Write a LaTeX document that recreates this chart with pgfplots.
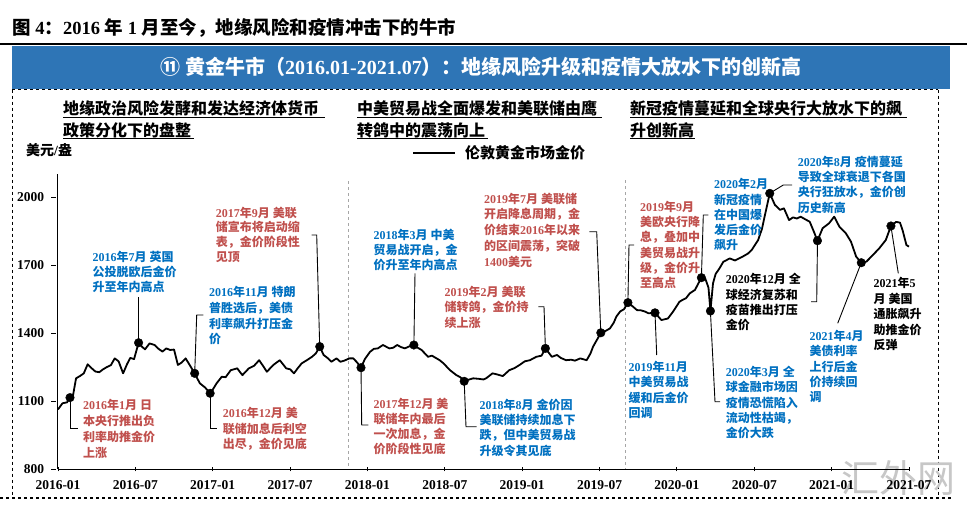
\documentclass[border=0pt]{standalone}
\usepackage{fontspec}
\setmainfont{Liberation Serif}
\newfontfamily\cjk{Noto Sans CJK SC}
\usepackage{pgfplots}
\pgfplotsset{compat=1.18}
\definecolor{annred}{RGB}{192,80,77}
\definecolor{annblue}{RGB}{0,112,192}
\definecolor{banner}{RGB}{46,117,182}
% automatic switch between Latin and CJK fonts
\chardef\CJKcls=11
\newcount\cc
\def\setcls#1#2{\cc=#1 \loop \XeTeXcharclass\cc=\CJKcls \advance\cc by 1 \ifnum\cc<#2 \repeat}
\setcls{"4E00}{"A000}
\setcls{"3000}{"3040}
\setcls{"FF00}{"FFF0}
\setcls{"2460}{"2500}
\XeTeXinterchartoks 0 \CJKcls = {\cjk}
\XeTeXinterchartoks 4095 \CJKcls = {\cjk}
\XeTeXinterchartoks \CJKcls 0 = {\rmfamily}
\XeTeXinterchartoks \CJKcls 4095 = {\rmfamily}
\newcommand\ann[5]{%
  \foreach \t [count=\i from 0] in {#5}
    \node[anchor=west, inner sep=0pt, text=#4, font=\fontsize{12}{14}\selectfont\bfseries] at (#1,{#2+\i*#3}) {\t};}
\begin{document}
\XeTeXinterchartokenstate=1
\begin{tikzpicture}
\path[use as bounding box] (0,0) rectangle (967pt,-507pt);
\begin{scope}[x=1pt,y=-1pt]
  \node[anchor=west, inner sep=0pt, font=\fontsize{18.5}{20}\selectfont\bfseries] at (12,28) {图 4：2016 年 1 月至今，地缘风险和疫情冲击下的牛市};
  \draw[line width=2.5pt] (0,43.8) -- (967,43.8);
  \fill[banner] (12,45.5) rectangle (950,88.5);
  \node[text=white, inner sep=0pt, font=\fontsize{20}{22}\selectfont\bfseries] at (481,67) {⑪ 黄金牛市（2016.01-2021.07）：地缘风险升级和疫情大放水下的创新高};
  \draw[dashed, line width=1pt] (12,89.5) -- (12,498);
  \draw[dashed, line width=1pt] (12,89.5) -- (938,89.5);
  \draw[dashed, line width=1pt] (938,89.5) -- (938,498);
  \draw[dashed, line width=2.5pt] (0,498) -- (952,498);
  \draw[gray!70, dashed, line width=0.9pt] (348.3,181) -- (348.3,469);
  \draw[gray!70, dashed, line width=0.9pt] (625,180) -- (625,469);
  % section titles
  \begin{scope}[every node/.style={anchor=west, inner sep=0pt, font=\fontsize{16}{18}\selectfont\bfseries}]
    \node at (63,108) {地缘政治风险发酵和发达经济体货币};
    \node at (63,130) {政策分化下的盘整};
    \node at (357,108) {中美贸易战全面爆发和美联储由鹰};
    \node at (357,130) {转鸽中的震荡向上};
    \node at (630,108) {新冠疫情蔓延和全球央行大放水下的飙};
    \node at (630,130) {升创新高};
  \end{scope}
  \draw[line width=0.9pt] (63,117) -- (325,117);
  \draw[line width=0.9pt] (63,138.5) -- (194,138.5);
  \draw[line width=0.9pt] (357,117) -- (602,117);
  \draw[line width=0.9pt] (357,138.5) -- (488,138.5);
  \draw[line width=0.9pt] (630,117) -- (907,117);
  \draw[line width=0.9pt] (630,138.5) -- (695,138.5);
  % legend
  \draw[line width=1.6pt] (413,153) -- (455,153);
  \node[anchor=west, inner sep=0pt, font=\fontsize{15}{17}\selectfont\bfseries] at (465,153) {伦敦黄金市场金价};
  \node[anchor=west, inner sep=0pt, font=\fontsize{14}{16}\selectfont\bfseries] at (26,150) {美元/盎};
  \node[anchor=center, inner sep=0pt, text=black!22, font=\fontsize{38}{40}\selectfont] at (898,478) {汇外网};
\end{scope}
\begin{axis}[
  at={(58pt,-469pt)}, anchor=south west, scale only axis,
  width=851pt, height=294.7pt,
  xmin=0, xmax=66, ymin=800, ymax=2100,
  axis lines=left, axis line style={line width=1pt, -},
  clip=false,
  xtick={0,6,12,18,24,30,36,42,48,54,60,66},
  xticklabels={2016-01,2016-07,2017-01,2017-07,2018-01,2018-07,2019-01,2019-07,2020-01,2020-07,2021-01,2021-07},
  ytick={800,1100,1400,1700,2000},
  major tick length=4.5pt,
  tick style={black, line width=0.9pt},
  ytick style={xshift=-4.5pt},
  tick label style={font=\fontsize{13.5}{14}\selectfont\bfseries},
  xticklabel style={yshift=-6pt},
  yticklabel style={xshift=-8pt},
  /pgf/number format/assume math mode=true,
  /pgf/number format/1000 sep={},
]
\addplot[black, line width=1.8pt, line join=round] coordinates {
(0.0,1063) (0.35,1090) (0.7,1094) (0.93,1115) (1.15,1120) (1.4,1200) (1.7,1210) (2.0,1222) (2.3,1262) (2.6,1245)
(2.9,1230) (3.2,1227) (3.5,1240) (3.8,1250) (4.1,1258) (4.4,1288) (4.7,1275) (5.05,1222) (5.35,1262) (5.6,1290)
(5.9,1285) (6.25,1357) (6.5,1340) (6.75,1328) (7.1,1354) (7.5,1347) (7.8,1330) (8.1,1318) (8.4,1332) (8.7,1325)
(9.0,1327) (9.3,1259) (9.6,1270) (9.9,1288) (10.2,1260) (10.6,1222) (11.0,1178) (11.4,1160) (11.8,1134) (12.0,1150)
(12.3,1178) (12.7,1207) (13.0,1205) (13.4,1236) (13.9,1244) (14.3,1214) (14.8,1244) (15.2,1255) (15.6,1280) (15.9,1255)
(16.2,1229) (16.7,1259) (17.2,1280) (17.7,1244) (18.0,1240) (18.3,1222) (18.6,1245) (18.9,1266) (19.3,1280) (19.7,1295)
(20.0,1310) (20.3,1340) (20.6,1303) (20.9,1290) (21.2,1273) (21.6,1288) (21.9,1273) (22.2,1278) (22.6,1288) (22.9,1288)
(23.2,1270) (23.5,1247) (23.8,1285) (24.2,1317) (24.5,1330) (24.8,1332) (25.2,1347) (25.7,1332) (26.0,1335) (26.3,1347)
(26.6,1338) (26.9,1332) (27.2,1340) (27.6,1347) (27.9,1335) (28.2,1325) (28.7,1295) (29.0,1300) (29.3,1290) (29.6,1280)
(29.9,1266) (30.4,1236) (30.9,1214) (31.2,1205) (31.5,1187) (31.9,1195) (32.2,1200) (32.6,1198) (33.0,1195) (33.2,1200)
(33.7,1222) (34.0,1218) (34.5,1210) (35.0,1236) (35.4,1245) (35.8,1259) (36.2,1275) (36.6,1280) (37.1,1295) (37.5,1300)
(37.8,1332) (38.1,1310) (38.3,1295) (38.7,1303) (39.0,1290) (39.4,1280) (39.8,1282) (40.1,1278) (40.5,1288) (41.0,1280)
(41.3,1310) (41.5,1340) (41.8,1370) (42.1,1401) (42.5,1410) (42.8,1420) (43.1,1445) (43.3,1472) (43.6,1495) (43.9,1505)
(44.2,1534) (44.6,1516) (44.9,1501) (45.2,1500) (45.5,1495) (45.8,1487) (46.3,1489) (46.8,1457) (47.3,1464) (47.7,1494)
(48.2,1538) (48.5,1548) (48.7,1553) (49.0,1575) (49.4,1590) (49.9,1644) (50.2,1640) (50.45,1600) (50.6,1497) (50.8,1619)
(51.0,1660) (51.3,1685) (51.6,1714) (52.1,1729) (52.5,1720) (53.1,1737) (53.5,1750) (53.8,1766) (54.3,1810) (54.6,1860)
(54.8,1913) (55.2,2016) (55.6,1965) (56.0,1943) (56.3,1950) (56.7,1898) (57.0,1910) (57.3,1905) (57.6,1913) (58.0,1900)
(58.3,1891) (58.6,1850) (58.9,1807) (59.3,1862) (59.8,1884) (60.2,1913) (60.6,1869) (61.1,1840) (61.5,1803) (61.9,1737)
(62.3,1710) (62.7,1715) (63.2,1744) (63.7,1774) (64.2,1810) (64.6,1872) (65.0,1890) (65.3,1887) (65.5,1854) (65.8,1788)
(66.0,1781)
};
\addplot[only marks, mark=*, mark size=4.3pt, black] coordinates {
(0.93,1115) (6.25,1357) (10.6,1222) (11.8,1134) (20.3,1340) (23.5,1247) (27.6,1347) (31.5,1187) (37.8,1332)
(42.1,1401) (44.2,1534) (46.3,1489) (49.9,1644) (50.6,1497) (55.2,2016) (58.9,1807) (62.3,1710) (64.6,1872)
};
\end{axis}
\begin{scope}[x=1pt,y=-1pt]
  \begin{scope}[line width=0.9pt]
    \draw (70,397.6) -- (70,428) -- (78,428);
    \draw (138.6,342.7) -- (138.6,296.7);
    \draw (194.7,373.3) -- (196.7,315) -- (203.3,315);
    \draw (210.1,393.3) -- (210.1,428.3) -- (216.7,428.3);
    \draw (319.7,346.6) -- (316.7,235) -- (311.7,235);
    \draw (361,367.7) -- (361.7,425) -- (368.3,425);
    \draw (413.9,345) -- (415,273.3);
    \draw (464.2,381.3) -- (466,426.7) -- (476.7,426.7);
    \draw (545.4,348.4) -- (544,306.7) -- (538.3,306.7);
    \draw (600.8,332.8) -- (596.7,231.7) -- (589.3,231.7);
    \draw (627.9,302.6) -- (629,245) -- (634,245);
    \draw (655,312.8) -- (656.7,355);
    \draw (701.4,277.7) -- (703.3,215) -- (708.3,215);
    \draw (710.4,311) -- (715,401.7) -- (720,401.7);
    \draw (769.7,193.3) -- (783.3,185) -- (792,185);
    \draw (817.5,240.7) -- (816.7,301.7) -- (811,301.7);
    \draw (861.3,262.7) -- (837.7,323.3);
    \draw (890.9,226) -- (898.3,273.3);
  \end{scope}
  \ann{83}{405}{15.9}{annred}{2016年1月 日,本央行推出负,利率助推金价,上涨}
  \ann{92.5}{257}{15}{annblue}{2016年7月 英国,公投脱欧后金价,升至年内高点}
  \ann{209}{292.3}{15.7}{annblue}{2016年11月 特朗,普胜选后，美债,利率飙升打压金,价}
  \ann{222.7}{413.3}{15.5}{annred}{2016年12月 美,联储加息后利空,出尽，金价见底}
  \ann{215.7}{212.7}{14.7}{annred}{2017年9月 美联,储宣布将启动缩,表，金价阶段性,见顶}
  \ann{373.3}{404}{15.1}{annred}{2017年12月 美,联储年内最后,一次加息，金,价阶段性见底}
  \ann{373.3}{235}{15}{annblue}{2018年3月 中美,贸易战开启，金,价升至年内高点}
  \ann{479.3}{405}{15.3}{annblue}{2018年8月 金价因,美联储持续加息下,跌，但中美贸易战,升级令其见底}
  \ann{444.3}{292.3}{15.2}{annred}{2019年2月 美联,储转鸽，金价持,续上涨}
  \ann{484}{199}{15.7}{annred}{2019年7月 美联储,开启降息周期，金,价结束2016年以来,的区间震荡，突破,1400美元}
  \ann{640}{206.7}{15.3}{annred}{2019年9月,美欧央行降,息，叠加中,美贸易战升,级，金价升,至高点}
  \ann{628.3}{366.7}{15.5}{annblue}{2019年11月,中美贸易战,缓和后金价,回调}
  \ann{714}{184.3}{15.2}{annblue}{2020年2月,新冠疫情,在中国爆,发后金价,飙升}
  \ann{725.7}{371.7}{15.4}{annblue}{2020年3月 全,球金融市场因,疫情恐慌陷入,流动性枯竭，,金价大跌}
  \ann{797.7}{161.7}{15.3}{annblue}{2020年8月 疫情蔓延,导致全球衰退下各国,央行狂放水，金价创,历史新高}
  \ann{725.7}{279.3}{15.2}{black}{2020年12月 全,球经济复苏和,疫苗推出打压,金价}
  \ann{809.3}{336}{15.2}{annblue}{2021年4月,美债利率,上行后金,价持续回,调}
  \ann{873.3}{283.3}{15.4}{black}{2021年5,月 美国,通胀飙升,助推金价,反弹}
\end{scope}
\end{tikzpicture}
\end{document}
